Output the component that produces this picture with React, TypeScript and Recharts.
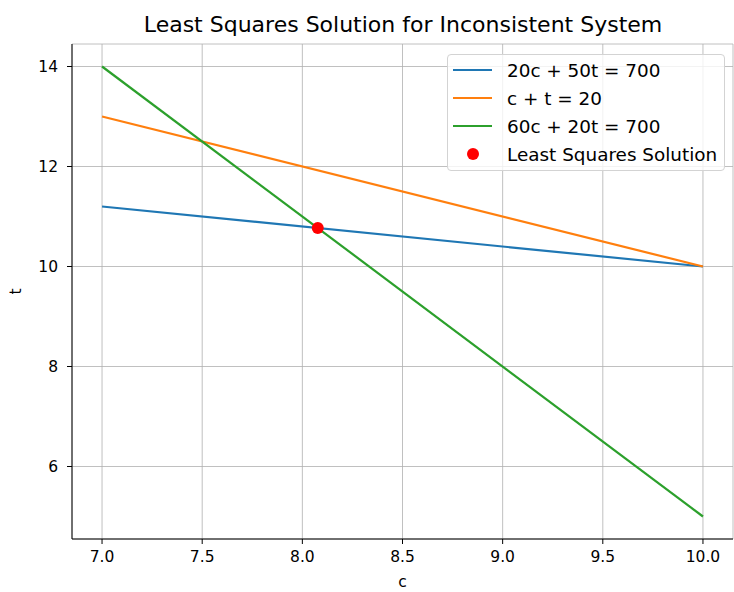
import React from "react";
import {
  ComposedChart,
  Line,
  Scatter,
  XAxis,
  YAxis,
  CartesianGrid,
  Legend,
} from "recharts";

// Data
const cValues = [7.0, 10.0];
const line1T = [11.2, 10.0]; // 20c + 50t = 700
const line2T = [13.0, 10.0]; // c + t = 20
const line3T = [14.0, 5.0]; // 60c + 20t = 700
const solutionC = [8.077];
const solutionT = [10.77];

const seriesNames = [
  "20c + 50t = 700",
  "c + t = 20",
  "60c + 20t = 700",
  "Least Squares Solution",
];
const seriesColors = ["#1f77b4", "#ff7f0e", "#2ca02c", "#ff0000"];

const xTicks = [7.0, 7.5, 8.0, 8.5, 9.0, 9.5, 10.0];
const yTicks = [6, 8, 10, 12, 14];

const toRows = (ts: number[]) => cValues.map((c, i) => ({ c, t: ts[i] }));
const data1 = toRows(line1T);
const data2 = toRows(line2T);
const data3 = toRows(line3T);
const solutionData = solutionC.map((c, i) => ({ c, t: solutionT[i] }));

const FONT = "'DejaVu Sans', sans-serif";
const TICK_FS = 15.5;
const LEGEND_FS = 18.4;
const TITLE_FS = 22;

const LegendBox = () => (
  <div
    style={{
      boxSizing: "border-box",
      width: 278,
      height: 117,
      border: "1px solid #d3d3d3",
      borderRadius: 4,
      background: "rgba(255,255,255,0.8)",
      paddingTop: 1,
      fontFamily: FONT,
      fontSize: LEGEND_FS,
      color: "#000",
    }}
  >
    {seriesNames.map((name, i) => (
      <div
        key={name}
        style={{ height: 28, display: "flex", alignItems: "center", position: "relative" }}
      >
        {i < 3 ? (
          <div
            style={{
              position: "absolute",
              left: 5,
              width: 39,
              height: 2,
              background: seriesColors[i],
            }}
          />
        ) : (
          <div
            style={{
              position: "absolute",
              left: 19,
              width: 12,
              height: 12,
              borderRadius: "50%",
              background: seriesColors[i],
            }}
          />
        )}
        <span style={{ position: "absolute", left: 59, whiteSpace: "nowrap" }}>{name}</span>
      </div>
    ))}
  </div>
);

const YLabel = (props: any) => {
  const vb = props.viewBox || { x: 0, y: 44, width: 72, height: 495 };
  const x = vb.x + 16;
  const y = vb.y + vb.height / 2;
  return (
    <text
      x={x}
      y={y}
      transform={`rotate(-90, ${x}, ${y})`}
      textAnchor="middle"
      dominantBaseline="central"
      fontFamily={FONT}
      fontSize={TICK_FS}
      fill="#000"
    >
      t
    </text>
  );
};

const Dot = (props: any) => {
  const { cx, cy } = props;
  if (cx == null || cy == null) return null;
  return <circle cx={cx} cy={cy} r={6} fill={seriesColors[3]} />;
};

export default function App() {
  return (
    <div style={{ position: "absolute", left: 0, top: 0, width: 734, height: 592, background: "#fff" }}>
      <div
        style={{
          position: "absolute",
          left: 72,
          width: 662,
          top: 12,
          textAlign: "center",
          fontFamily: FONT,
          fontSize: TITLE_FS,
          color: "#000",
          lineHeight: "26px",
          zIndex: 2,
          whiteSpace: "nowrap",
        }}
      >
        Least Squares Solution for Inconsistent System
      </div>
      <ComposedChart
        width={734}
        height={592}
        margin={{ top: 44, right: 1, bottom: 0, left: 0 }}
        style={{ fontFamily: FONT }}
      >
        <CartesianGrid stroke="#b0b0b0" strokeWidth={0.8} />
        <XAxis
          dataKey="c"
          type="number"
          domain={[6.85, 10.15]}
          allowDataOverflow
          ticks={xTicks}
          tickFormatter={(v: number) => v.toFixed(1)}
          height={53}
          tickSize={5}
          tickMargin={7}
          axisLine={{ stroke: "#000", strokeWidth: 1 }}
          tickLine={{ stroke: "#000" }}
          tick={{ fill: "#000", fontSize: TICK_FS, fontFamily: FONT }}
          label={{ value: "c", position: "insideBottom", offset: 5, fill: "#000", fontSize: TICK_FS, fontFamily: FONT }}
        />
        <XAxis
          xAxisId="top"
          orientation="top"
          type="number"
          domain={[6.85, 10.15]}
          height={0}
          tick={false}
          tickLine={false}
          axisLine={{ stroke: "#000", strokeWidth: 1 }}
        />
        <YAxis
          dataKey="t"
          type="number"
          domain={[4.55, 14.45]}
          allowDataOverflow
          ticks={yTicks}
          width={72}
          tickSize={5}
          tickMargin={9}
          axisLine={{ stroke: "#000", strokeWidth: 1 }}
          tickLine={{ stroke: "#000" }}
          tick={{ fill: "#000", fontSize: TICK_FS, fontFamily: FONT }}
          label={<YLabel />}
        />
        <YAxis
          yAxisId="right"
          orientation="right"
          type="number"
          domain={[4.55, 14.45]}
          width={0}
          tick={false}
          tickLine={false}
          axisLine={{ stroke: "#000", strokeWidth: 1 }}
        />
        <Line data={data1} dataKey="t" stroke={seriesColors[0]} strokeWidth={2.2} dot={false} isAnimationActive={false} name={seriesNames[0]} />
        <Line data={data2} dataKey="t" stroke={seriesColors[1]} strokeWidth={2.2} dot={false} isAnimationActive={false} name={seriesNames[1]} />
        <Line data={data3} dataKey="t" stroke={seriesColors[2]} strokeWidth={2.2} dot={false} isAnimationActive={false} name={seriesNames[2]} />
        <Scatter data={solutionData} dataKey="t" fill={seriesColors[3]} shape={<Dot />} isAnimationActive={false} name={seriesNames[3]} />
        <Legend
          layout="horizontal"
          verticalAlign="middle"
          align="center"
          content={<LegendBox />}
          wrapperStyle={{ left: 447, top: 54, width: 278, height: 117, bottom: "auto", right: "auto" }}
        />
      </ComposedChart>
    </div>
  );
}
